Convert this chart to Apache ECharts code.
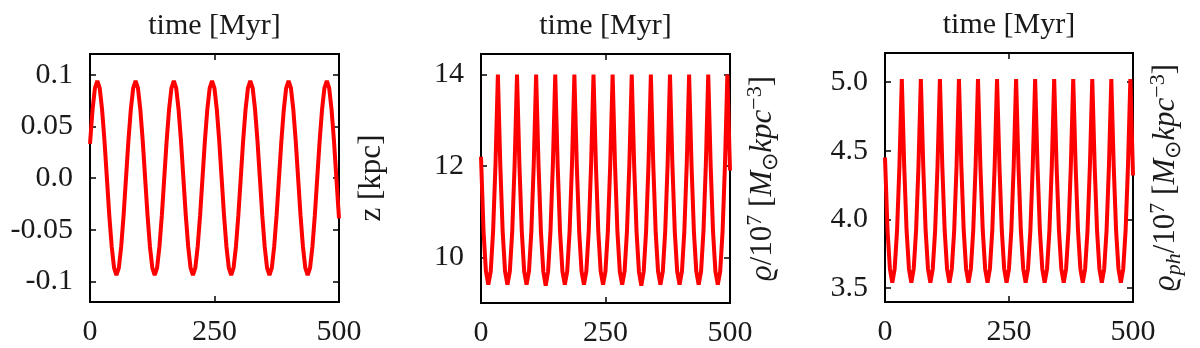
<!DOCTYPE html>
<html>
<head>
<meta charset="utf-8">
<script src="https://cdn.jsdelivr.net/npm/echarts@6/dist/echarts.min.js"></script>
<style>
html, body { margin: 0; padding: 0; background: #fff; }
#chart { width: 1200px; height: 348px; }
</style>
</head>
<body>
<div id="chart"></div>
<script>
// sampling times [Myr]
var time = [
    0, 5.1, 9.9,
    14.7, 19.5, 24.3, 29.1, 33.9, 38.7, 43.5, 48.3, 53.1, 57.9, 62.7, 67.5, 72.3, 77.1, 81.9, 86.7,
    91.5, 96.3, 101.1, 105.9, 110.7, 115.5, 120.3, 125.1, 129.9, 134.7, 139.5, 144.3, 149.1, 153.9, 158.7, 163.5,
    168.3, 173.1, 177.9, 182.7, 187.5, 192.3, 197.1, 201.9, 206.7, 211.5, 216.3, 221.1, 225.9, 230.7, 235.5, 240.3,
    245.1, 249.9, 254.7, 259.5, 264.3, 269.1, 273.9, 278.7, 283.5, 288.3, 293.1, 297.9, 302.7, 307.5, 312.3, 317.1,
    321.9, 326.7, 331.5, 336.3, 341.1, 345.9, 350.7, 355.5, 360.3, 365.1, 369.9, 374.7, 379.5, 384.3, 389.1, 393.9,
    398.7, 403.5, 408.3, 413.1, 417.9, 422.7, 427.5, 432.3, 437.1, 441.9, 446.7, 451.5, 456.3, 461.1, 465.9, 470.7,
    475.5, 480.3, 485.1, 489.9, 494.7, 500
];

// z [kpc]
var zPos = [
    0.033, 0.066, 0.087,
    0.094, 0.087, 0.066, 0.036, 0, -0.036, -0.066, -0.087, -0.094, -0.087, -0.066, -0.036, 0, 0.036, 0.066, 0.087,
    0.094, 0.087, 0.066, 0.036, 0, -0.036, -0.066, -0.087, -0.094, -0.087, -0.066, -0.036, 0, 0.036, 0.066, 0.087,
    0.094, 0.087, 0.066, 0.036, 0, -0.036, -0.066, -0.087, -0.094, -0.087, -0.066, -0.036, 0, 0.036, 0.066, 0.087,
    0.094, 0.087, 0.066, 0.036, 0, -0.036, -0.066, -0.087, -0.094, -0.087, -0.066, -0.036, 0, 0.036, 0.066, 0.087,
    0.094, 0.087, 0.066, 0.036, 0, -0.036, -0.066, -0.087, -0.094, -0.087, -0.066, -0.036, 0, 0.036, 0.066, 0.087,
    0.094, 0.087, 0.066, 0.036, 0, -0.036, -0.066, -0.087, -0.094, -0.087, -0.066, -0.036, 0, 0.036, 0.066, 0.087,
    0.094, 0.087, 0.066, 0.036, 0, -0.039
];

// rho / 1e7 [Msun kpc^-3]
var rho = [
    12.2, 10.57, 9.69,
    9.40, 9.69, 10.57, 12.03, 14.0, 12.03, 10.57, 9.69,
    9.40, 9.69, 10.57, 12.03, 14.0, 12.03, 10.57, 9.69,
    9.40, 9.69, 10.57, 12.03, 14.0, 12.03, 10.57, 9.69,
    9.38, 9.69, 10.57, 12.03, 14.0, 12.03, 10.57, 9.69,
    9.40, 9.69, 10.57, 12.03, 14.0, 12.03, 10.57, 9.69,
    9.40, 9.69, 10.57, 12.03, 14.0, 12.03, 10.57, 9.69,
    9.40, 9.69, 10.57, 12.03, 14.0, 12.03, 10.57, 9.69,
    9.40, 9.69, 10.57, 12.03, 14.0, 12.03, 10.57, 9.69,
    9.38, 9.69, 10.57, 12.03, 14.0, 12.03, 10.57, 9.69,
    9.40, 9.69, 10.57, 12.03, 14.0, 12.03, 10.57, 9.69,
    9.40, 9.69, 10.57, 12.03, 14.0, 12.03, 10.57, 9.69,
    9.40, 9.69, 10.57, 12.03, 14.0, 12.03, 10.57, 9.69,
    9.40, 9.69, 10.57, 12.03, 14.0, 11.9
];

// rho_ph / 1e7 [Msun kpc^-3]
var rhoPh = [
    4.45, 3.92, 3.64,
    3.54, 3.64, 3.92, 4.39, 5.02, 4.39, 3.92, 3.64,
    3.54, 3.64, 3.92, 4.39, 5.02, 4.39, 3.92, 3.64,
    3.54, 3.64, 3.92, 4.39, 5.02, 4.39, 3.92, 3.64,
    3.54, 3.64, 3.92, 4.39, 5.02, 4.39, 3.92, 3.64,
    3.54, 3.64, 3.92, 4.39, 5.02, 4.39, 3.92, 3.64,
    3.54, 3.64, 3.92, 4.39, 5.02, 4.39, 3.92, 3.64,
    3.54, 3.64, 3.92, 4.39, 5.02, 4.39, 3.92, 3.64,
    3.54, 3.64, 3.92, 4.39, 5.02, 4.39, 3.92, 3.64,
    3.54, 3.64, 3.92, 4.39, 5.02, 4.39, 3.92, 3.64,
    3.54, 3.64, 3.92, 4.39, 5.02, 4.39, 3.92, 3.64,
    3.54, 3.64, 3.92, 4.39, 5.02, 4.39, 3.92, 3.64,
    3.54, 3.64, 3.92, 4.39, 5.02, 4.39, 3.92, 3.64,
    3.54, 3.64, 3.92, 4.39, 5.02, 4.32
];

var zTicks = [-0.1, -0.05, 0, 0.05, 0.1];
var zTickLabels = ['-0.1', '-0.05', '0.0', '0.05', '0.1'];
var rhoTicks = [10, 12, 14];
var rhoTickLabels = ['10', '12', '14'];
var phTicks = [3.5, 4, 4.5, 5];
var phTickLabels = ['3.5', '4.0', '4.5', '5.0'];

var FONT = 'Liberation Serif';
var TEXT = '#1a1a1a';
var FS = 30;

var chart = echarts.init(document.getElementById('chart'));

var richStyle = {
    it: { fontFamily: FONT, fontSize: 31, fontStyle: 'italic', color: TEXT },
    sup: { fontFamily: FONT, fontSize: 22, verticalAlign: 'top', color: TEXT },
    sub: { fontFamily: FONT, fontSize: 22, verticalAlign: 'bottom', color: TEXT },
    subit: { fontFamily: FONT, fontSize: 22, fontStyle: 'italic', verticalAlign: 'bottom', color: TEXT }
};

function pairs(ys) {
    var out = [];
    for (var i = 0; i < time.length; i++) out.push([time[i], ys[i]]);
    return out;
}

function tickLabel(ticks, labels) {
    return function (v) {
        for (var i = 0; i < ticks.length; i++) {
            if (Math.abs(ticks[i] - v) < 1e-9) return labels[i];
        }
        return '';
    };
}

var tickStyle = { inside: true, length: 6, lineStyle: { color: '#000', width: 1.5 } };

function xBottom(g) {
    return {
        type: 'value', gridIndex: g, position: 'bottom', min: 0, max: 500, interval: 250,
        axisLine: { show: false, onZero: false }, axisTick: tickStyle, splitLine: { show: false },
        axisLabel: { margin: 15, fontFamily: FONT, fontSize: FS, color: TEXT }
    };
}

function xTop(g) {
    return {
        type: 'value', gridIndex: g, position: 'top', min: 0, max: 500, interval: 250,
        axisLine: { show: false, onZero: false }, axisTick: tickStyle, splitLine: { show: false },
        axisLabel: { show: false },
        name: 'time [Myr]', nameLocation: 'middle', nameGap: 13,
        nameTextStyle: { fontFamily: FONT, fontSize: FS, color: TEXT }
    };
}

function yLeft(g, min, max, ticks, labels) {
    return {
        type: 'value', gridIndex: g, position: 'left', min: min, max: max,
        axisLine: { show: false, onZero: false }, splitLine: { show: false },
        axisTick: { inside: true, length: 6, lineStyle: { color: '#000', width: 1.5 }, customValues: ticks },
        axisLabel: { margin: 17, fontFamily: FONT, fontSize: FS, color: TEXT, customValues: ticks,
            formatter: tickLabel(ticks, labels) }
    };
}

function yRight(g, min, max, ticks, name) {
    return {
        type: 'value', gridIndex: g, position: 'right', min: min, max: max,
        axisLine: { show: false, onZero: false }, splitLine: { show: false },
        axisTick: { inside: true, length: 6, lineStyle: { color: '#000', width: 1.5 }, customValues: ticks },
        axisLabel: { show: false },
        name: name, nameLocation: 'middle', nameGap: 14, nameRotate: 90,
        nameTextStyle: { fontFamily: FONT, fontSize: 31, color: TEXT, lineHeight: 38, rich: richStyle }
    };
}

function lineSeries(g, ys) {
    return {
        type: 'line', xAxisIndex: g * 2, yAxisIndex: g * 2, data: pairs(ys),
        showSymbol: false, clip: true,
        lineStyle: { color: '#ff0000', width: 4 }
    };
}

var gridBox = { show: true, borderColor: '#000', borderWidth: 2, backgroundColor: 'transparent' };

var option = {
    animation: false,
    grid: [
        Object.assign({ left: 90, top: 54, width: 249, height: 248 }, gridBox),
        Object.assign({ left: 481, top: 54, width: 249, height: 249 }, gridBox),
        Object.assign({ left: 885, top: 53, width: 248, height: 249 }, gridBox)
    ],
    xAxis: [xBottom(0), xTop(0), xBottom(1), xTop(1), xBottom(2), xTop(2)],
    yAxis: [
        yLeft(0, -0.12, 0.12, zTicks, zTickLabels),
        yRight(0, -0.12, 0.12, zTicks, 'z [kpc]'),
        yLeft(1, 9, 14.45, rhoTicks, rhoTickLabels),
        yRight(1, 9, 14.45, rhoTicks, '{it|ϱ}/10{sup|7} [{it|M}{sub|⊙}{it|kpc}{sup|−3}]'),
        yLeft(2, 3.4, 5.21, phTicks, phTickLabels),
        yRight(2, 3.4, 5.21, phTicks, '{it|ϱ}{subit|ph}/10{sup|7} [{it|M}{sub|⊙}{it|kpc}{sup|−3}]')
    ],
    series: [
        lineSeries(0, zPos),
        lineSeries(1, rho),
        lineSeries(2, rhoPh)
    ]
};

chart.setOption(option);
</script>
</body>
</html>
